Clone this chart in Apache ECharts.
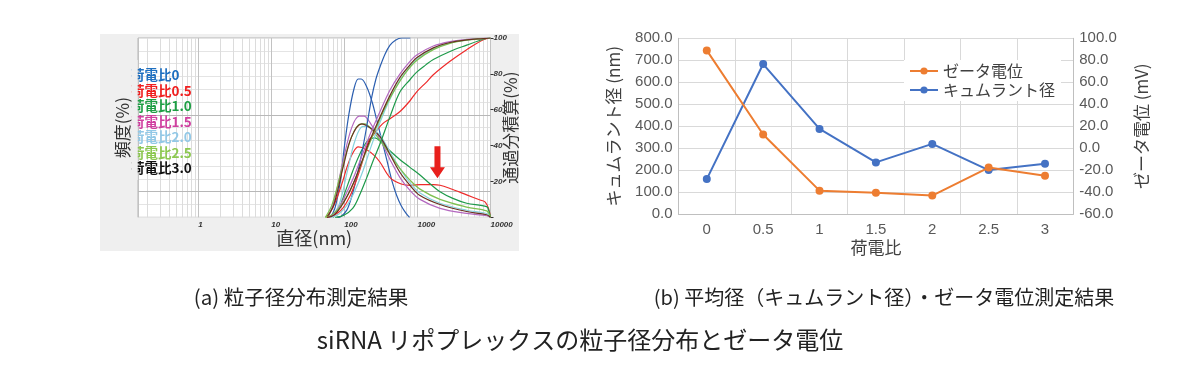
<!DOCTYPE html>
<html><head><meta charset="utf-8">
<script src="https://cdn.jsdelivr.net/npm/echarts@6/dist/echarts.min.js"></script>
<style>html,body{margin:0;padding:0;background:#fff}#c{width:1200px;height:370px}</style>
</head><body><div id="c"></div>
<script>
// ---------- Panel (a): particle size distribution ----------
const sizeTickLabels = [1, 10, 100, 1000, 10000];
const cumTickLabels = [20, 40, 60, 80, 100];
const chargeLabelsA = ['荷電比0', '荷電比0.5', '荷電比1.0', '荷電比1.5', '荷電比2.0', '荷電比2.5', '荷電比3.0'];
const arrowAt = [1880, 4.3];

// frequency (%) curves [diameter nm, value]
const freq00 = [[65,0],[75,0.8],[88,2.8],[100,5.5],[115,8.0],[135,10.0],[155,10.8],[170,10.8],[202,10.2],[240,9.0],[277,7.6],[330,5.9],[380,4.5],[450,2.8],[520,1.7],[600,0.9],[700,0.3],[780,0]];
const freq05 = [[57,0],[70,0.8],[90,2.4],[110,4.0],[130,5.0],[155,5.5],[200,5.3],[260,4.8],[308,4.3],[422,3.1],[600,2.6],[800,2.5],[1100,2.55],[1650,2.55],[2037,2.5],[2790,2.25],[4723,1.75],[7200,1.35],[8400,1.2],[9400,0.7],[10000,0]];
const freq10 = [[70,0],[85,0.7],[100,1.8],[130,3.6],[165,5.0],[210,6.0],[260,6.2],[330,5.8],[420,5.2],[578,4.5],[791,3.9],[1084,3.3],[1500,2.6],[2037,2.0],[3000,1.5],[4723,1.1],[8870,0.83],[9600,0.4],[10000,0]];
const freq15 = [[60,0],[72,1.2],[97,4.5],[126,7.0],[160,7.9],[185,7.9],[230,7.3],[308,6.1],[422,4.5],[578,3.1],[791,2.1],[1084,1.4],[2037,0.7],[4723,0.3],[8870,0.12],[10000,0]];
const freq20 = [[66,0],[85,1.0],[110,3.6],[140,6.0],[180,7.1],[230,7.0],[308,6.4],[422,5.1],[578,3.8],[791,2.7],[1084,1.9],[2037,1.1],[4723,0.55],[8870,0.3],[10000,0]];
const freq25 = [[55,0],[68,1.0],[90,3.5],[120,6.0],[155,7.2],[190,7.3],[240,6.8],[308,6.0],[422,4.9],[578,3.8],[791,2.9],[1084,2.2],[2037,1.4],[4723,0.8],[8870,0.5],[9700,0.2],[10000,0]];
const freq30 = [[58,0],[72,1.0],[97,4.0],[126,6.3],[173,7.3],[224,7.0],[308,6.3],[422,4.9],[578,3.5],[791,2.5],[1084,1.7],[2037,1.0],[4723,0.45],[8870,0.2],[10000,0]];

// cumulative passing (%) curves
const cum00 = [[80,0],[90,0.5],[108,4],[126,11.5],[148,22.6],[173,35.7],[202,50.5],[237,67],[270,77],[308,84],[360,91],[422,96],[500,98.8],[610,100],[800,100]];
const cum05 = [[58,0],[75,1.5],[95,5],[120,12],[150,22],[180,32],[213,42],[260,47],[330,52],[422,55],[578,59],[791,65],[977,70],[1300,75],[1650,79.5],[2790,87],[4723,93.5],[7980,99],[10000,100]];
const cum10 = [[75,0],[97,1],[130,5],[160,12],[202,22],[250,32],[308,41],[420,56],[578,70],[800,77],[977,81],[1300,85],[1650,88],[2790,92.5],[4723,96],[7980,99.3],[10000,100]];
const cum15 = [[60,0],[72,1.5],[97,10],[133,22],[173,34],[224,46],[308,59],[422,71],[578,80],[791,87],[977,90.5],[1650,95.5],[2790,98],[4723,99.2],[7980,99.8],[10000,100]];
const cum20 = [[66,0],[85,2],[110,7],[140,15],[180,26],[230,39],[308,53],[422,66],[578,76.5],[791,84],[977,88],[1650,94],[2790,97.3],[4723,98.9],[7980,99.7],[10000,100]];
const cum25 = [[55,0],[68,1.5],[90,6.5],[120,15],[160,27],[210,39],[280,51],[380,63],[520,73],[700,81],[977,87.5],[1650,93.5],[2790,97],[4723,98.8],[7980,99.6],[10000,100]];
const cum30 = [[58,0],[72,1.2],[97,8],[133,19],[173,31],[224,43],[308,56],[422,68],[578,78],[791,85],[977,89],[1650,94.5],[2790,97.5],[4723,99],[7980,99.7],[10000,100]];

// ---------- Panel (b): cumulant diameter & zeta potential ----------
const chargeRatio = ['0', '0.5', '1', '1.5', '2', '2.5', '3'];
const cumulantNm = [160, 683, 388, 236, 320, 201, 230];
const zetaMv = [89, 12.5, -38.5, -40.5, -43, -17.5, -25];

// ---------- styles ----------
const LAT = '"Liberation Sans","Noto Sans CJK JP",sans-serif';
const JP = '"Noto Sans CJK JP",sans-serif';
const curveColors = ['#2c5fb0', '#ee2a2a', '#1e9a4a', '#b468c0', '#86d2dc', '#7cc050', '#6a3020'];
const labelColors = ['#1e6fc0', '#f02020', '#1e9e44', '#d040a0', '#92c8e6', '#8cc850', '#111111'];
const freqSets = [freq00, freq05, freq10, freq15, freq20, freq25, freq30];
const cumSets = [cum00, cum05, cum10, cum15, cum20, cum25, cum30];

// minor log grid (2..9 of each decade) and darker horizontal grid lines
const minorX = [];
[0.1, 1, 10, 100, 1000].forEach(d => { for (let m = 2; m <= 9; m++) { const v = +(d * m).toPrecision(3); if (v > 0.15) minorX.push(v); } });
const freqDarkLines = [2, 8];

function isPow10(v) { const l = Math.log10(v); return v >= 1 && Math.abs(l - Math.round(l)) < 1e-6; }

const seriesA = [];
seriesA.push({
  type: 'line', xAxisIndex: 0, yAxisIndex: 0, data: [], silent: true, z: 1,
  markLine: {
    silent: true, symbol: 'none', z: 1, animation: false, label: { show: false },
    data: minorX.map(v => ({ xAxis: v, lineStyle: { color: '#dcdcdc', width: 1, type: 'solid' } }))
      .concat(freqDarkLines.map(v => ({ yAxis: v, lineStyle: { color: '#b8b8b8', width: 1, type: 'solid' } })))
  }
});
freqSets.forEach((d, i) => {
  const s = {
    type: 'line', name: chargeLabelsA[i] + ' 頻度', xAxisIndex: 0, yAxisIndex: 0, data: d,
    showSymbol: false, smooth: 0.35, silent: true, z: 3,
    lineStyle: { width: 1.2, color: curveColors[i] }, itemStyle: { color: curveColors[i] }
  };
  if (i === 1) {
    s.markPoint = {
      silent: true, animation: false,
      symbol: 'path://M4.5,0 L10.5,0 L10.5,21 L15,21 L7.5,32 L0,21 L4.5,21 Z',
      symbolSize: [15, 32], symbolKeepAspect: false,
      itemStyle: { color: '#e8201c' }, label: { show: false },
      data: [{ coord: arrowAt }]
    };
  }
  seriesA.push(s);
});
cumSets.forEach((d, i) => {
  seriesA.push({
    type: 'line', name: chargeLabelsA[i] + ' 積算', xAxisIndex: 0, yAxisIndex: 1, data: d,
    showSymbol: false, smooth: 0.35, silent: true, z: 3,
    lineStyle: { width: 1.2, color: curveColors[i] }, itemStyle: { color: curveColors[i] }
  });
});

const seriesB = [
  { name: 'キュムラント径', type: 'line', xAxisIndex: 1, yAxisIndex: 2, data: cumulantNm,
    symbol: 'circle', symbolSize: 8, z: 4,
    lineStyle: { width: 2, color: '#4472C4' }, itemStyle: { color: '#4472C4' } },
  { name: 'ゼータ電位', type: 'line', xAxisIndex: 1, yAxisIndex: 3, data: zetaMv,
    symbol: 'circle', symbolSize: 8, z: 5,
    lineStyle: { width: 2, color: '#ED7D31' }, itemStyle: { color: '#ED7D31' } }
];

const graphics = [
  { type: 'rect', z: -100, silent: true, shape: { x: 100, y: 34, width: 419, height: 217 }, style: { fill: '#efefef' } }
];
chargeLabelsA.forEach((t, i) => {
  graphics.push({ type: 'text', z: 50, silent: true, x: 131, y: 75 + i * 15.5,
    style: { text: t, fill: labelColors[i], font: 'bold 13.5px ' + JP, textVerticalAlign: 'middle' } });
});
graphics.push({ type: 'rect', z: 51, silent: true, shape: { x: 131.5, y: 60, width: 6.2, height: 120 }, style: { fill: '#efefef' } });
graphics.push({ type: 'rect', z: 51, silent: true, shape: { x: 519, y: 30, width: 80, height: 225 }, style: { fill: '#ffffff' } });
graphics.push({ type: 'text', z: 50, silent: true, x: 301, y: 297,
  style: { text: '(a) 粒子径分布測定結果', fill: '#222', font: '20.5px ' + JP, textAlign: 'center', textVerticalAlign: 'middle' } });
graphics.push({ type: 'text', z: 50, silent: true, x: 884, y: 297,
  style: { text: '(b) 平均径（キュムラント径）・ゼータ電位測定結果', fill: '#222', font: '20px ' + JP, textAlign: 'center', textVerticalAlign: 'middle' } });
graphics.push({ type: 'text', z: 50, silent: true, x: 580, y: 340,
  style: { text: 'siRNA リポプレックスの粒子径分布とゼータ電位', fill: '#222', font: '24px ' + JP, textAlign: 'center', textVerticalAlign: 'middle' } });

const option = {
  animation: false,
  backgroundColor: 'transparent',
  textStyle: { fontFamily: LAT },
  grid: [
    { left: 138, top: 38, width: 352.5, height: 179.3, show: true, backgroundColor: '#fff', borderColor: '#b4b4b4', borderWidth: 1 },
    { left: 678.6, top: 38.3, width: 394.6, height: 176, show: false }
  ],
  legend: {
    data: ['ゼータ電位', 'キュムラント径'], orient: 'vertical', left: 904, top: 60,
    itemWidth: 28, itemHeight: 9, itemGap: 3, backgroundColor: '#fff', padding: [3, 6, 3, 5],
    textStyle: { fontSize: 16, color: '#404040', fontFamily: JP }
  },
  xAxis: [
    { type: 'log', gridIndex: 0, logBase: 10, min: 0.15, max: 10000,
      axisLine: { show: false }, axisTick: { show: false },
      axisLabel: { formatter: v => (isPow10(v) && sizeTickLabels.indexOf(Math.round(v)) >= 0) ? String(Math.round(v)) : '',
        fontSize: 8, fontStyle: 'italic', fontWeight: 'bold', color: '#333', align: 'left', margin: 3, hideOverlap: false },
      splitLine: { show: true, lineStyle: { color: '#c2c2c2', width: 1 } },
      name: '直径(nm)', nameLocation: 'middle', nameGap: 12,
      nameTextStyle: { fontSize: 18, color: '#333', fontFamily: JP } },
    { type: 'category', gridIndex: 1, data: chargeRatio, boundaryGap: true,
      axisLine: { show: true, lineStyle: { color: '#bfbfbf' } }, axisTick: { show: false },
      splitLine: { show: true, lineStyle: { color: '#d9d9d9' } },
      axisLabel: { fontSize: 15, color: '#595959', margin: 8 },
      name: '荷電比', nameLocation: 'middle', nameGap: 25,
      nameTextStyle: { fontSize: 17, color: '#404040', fontFamily: JP } }
  ],
  yAxis: [
    { type: 'value', gridIndex: 0, min: 0, max: 14, interval: 1,
      axisLine: { show: false }, axisTick: { show: false }, axisLabel: { show: false },
      splitLine: { show: true, lineStyle: { color: '#e4e4e4' } },
      name: '頻度(%)', nameLocation: 'middle', nameRotate: 90, nameGap: 7,
      nameTextStyle: { fontSize: 17, color: '#333', fontFamily: JP } },
    { type: 'value', gridIndex: 0, position: 'right', min: 0, max: 100, interval: 20,
      axisLine: { show: false }, axisTick: { show: true, length: 3, lineStyle: { color: '#333' } },
      axisLabel: { formatter: v => (cumTickLabels.indexOf(v) >= 0 ? String(v) : ''), fontSize: 8, fontStyle: 'italic', fontWeight: 'bold', color: '#333', margin: 3 },
      splitLine: { show: false },
      name: '通過分積算(%)', nameLocation: 'middle', nameRotate: 90, nameGap: 12, nameMoveOverlap: false,
      nameTextStyle: { fontSize: 17, color: '#333', fontFamily: JP } },
    { type: 'value', gridIndex: 1, min: 0, max: 800, interval: 100,
      axisLine: { show: true, lineStyle: { color: '#bfbfbf' } }, axisTick: { show: false },
      axisLabel: { formatter: v => v.toFixed(1), fontSize: 15, color: '#595959', margin: 6 },
      splitLine: { show: true, lineStyle: { color: '#d9d9d9' } },
      name: 'キュムラント径 (nm)', nameLocation: 'middle', nameRotate: 90, nameGap: 57,
      nameTextStyle: { fontSize: 17, color: '#404040', fontFamily: JP } },
    { type: 'value', gridIndex: 1, position: 'right', min: -60, max: 100, interval: 20,
      axisLine: { show: true, lineStyle: { color: '#bfbfbf' } }, axisTick: { show: false },
      axisLabel: { formatter: v => v.toFixed(1), fontSize: 15, color: '#595959', margin: 6 },
      splitLine: { show: false },
      name: 'ゼータ電位 (mV)', nameLocation: 'middle', nameRotate: 90, nameGap: 60,
      nameTextStyle: { fontSize: 17, color: '#404040', fontFamily: JP } }
  ],
  graphic: graphics,
  series: seriesA.concat(seriesB)
};

const chart = echarts.init(document.getElementById('c'), null, { renderer: 'canvas' });
chart.setOption(option);
</script></body></html>
